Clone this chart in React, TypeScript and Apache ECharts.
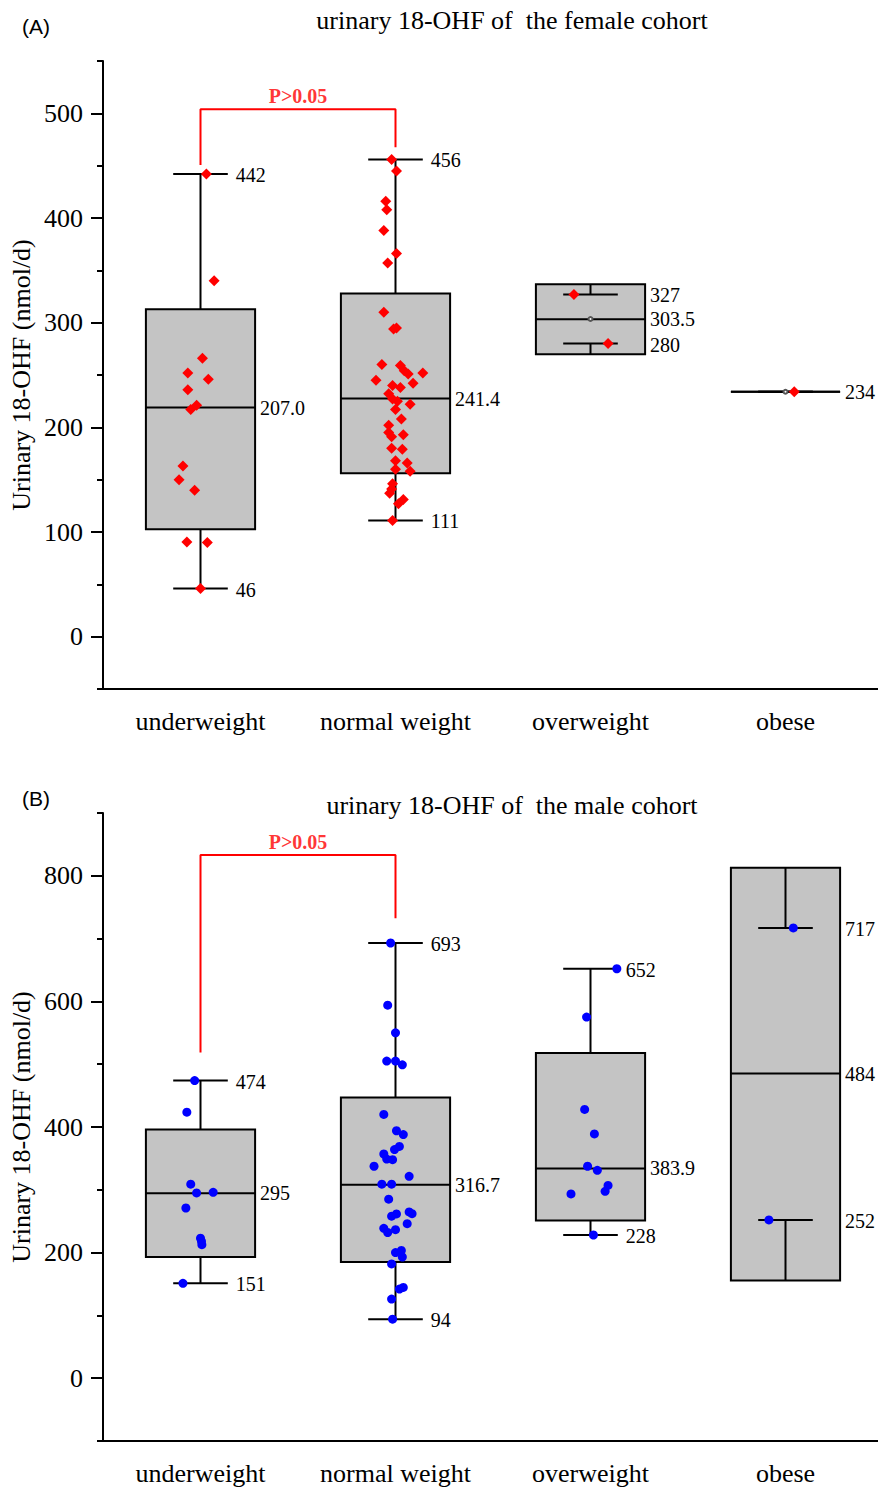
import React, { useEffect, useRef } from 'react';
import * as echarts from 'echarts';

const categories = ['underweight', 'normal weight', 'overweight', 'obese'];

// ---- Female cohort: box statistics ----
const femaleMin = [46, 111, 280, 234];
const femaleQ1 = [102.7, 156.2, 269.8, 234];
const femaleMedian = [218.9, 227.5, 303.3, 234];
const femaleQ3 = [312.8, 327.8, 336.7, 234];
const femaleMax = [442, 456, 327, 234];
const femaleMaxLabels = ['442', '456', '327', ''];
const femaleMinLabels = ['46', '111', '280', ''];
const femaleMedianLabels = ['207.0', '241.4', '303.5', '234'];
const femaleMeanCategory = [2, 3];
const femaleMeanValues = [303.5, 234];

// ---- Female cohort: individual points (value, jitter in category units) ----
const femaleUnderweightValues = [442, 340, 266, 252, 246, 236, 221, 217, 163, 150, 140, 90.5, 90, 46];
const femaleUnderweightJitter = [0.03, 0.07, 0.01, -0.065, 0.04, -0.065, -0.02, -0.05, -0.09, -0.11, -0.03, -0.07, 0.035, 0];
const femaleNormalValues = [456, 445, 416, 408, 388, 366, 357, 310, 294, 295, 260, 259, 254, 251, 252, 245, 242, 240, 238, 232, 227, 225, 222, 217, 208, 202, 195, 191, 193, 180, 179, 168, 166, 160, 158, 146, 141, 137, 131, 127, 111];
const femaleNormalJitter = [-0.02, 0.005, -0.05, -0.045, -0.06, 0.005, -0.04, -0.06, -0.01, 0.005, -0.07, 0.025, 0.045, 0.065, 0.14, -0.1, 0.09, -0.015, 0.025, -0.035, -0.015, 0.01, 0.075, 0, 0.03, -0.035, -0.035, -0.02, 0.04, -0.02, 0.035, 0, 0.06, 0, 0.075, -0.015, -0.02, -0.03, 0.04, 0.015, -0.015];
const femaleOverValues = [327, 280];
const femaleOverJitter = [-0.085, 0.09];
const femaleObeseValues = [234];
const femaleObeseJitter = [0.045];

// ---- Male cohort: box statistics ----
const maleMin = [151, 94, 228, 252];
const maleQ1 = [193, 185, 251, 155.7];
const maleMedian = [294.4, 308, 334, 485];
const maleQ3 = [396, 447, 518, 813];
const maleMax = [474, 693, 652, 717];
const maleMaxLabels = ['474', '693', '652', '717'];
const maleMinLabels = ['151', '94', '228', '252'];
const maleMedianLabels = ['295', '316.7', '383.9', '484'];

// ---- Male cohort: individual points ----
const maleUnderweightValues = [474, 423.6, 309, 295, 296, 271, 223, 218, 212.6, 151];
const maleUnderweightJitter = [-0.03, -0.07, -0.05, -0.02, 0.065, -0.075, 0, 0.005, 0.007, -0.09];
const maleNormalValues = [693, 594, 550, 505, 505, 499, 420, 394, 388, 369, 364, 357, 349, 348, 337.5, 321.5, 309, 309, 285, 258, 261.5, 264.7, 262, 246, 238.6, 232, 236.5, 200, 203.5, 193, 182, 144.5, 142, 126, 94];
const maleNormalJitter = [-0.025, -0.04, 0, -0.045, 0, 0.035, -0.06, 0.005, 0.04, 0.02, -0.005, -0.06, -0.045, -0.015, -0.11, 0.07, -0.07, -0.02, -0.035, -0.02, 0.005, 0.07, 0.085, 0.06, -0.06, -0.04, 0, 0, 0.03, 0.035, -0.02, 0.04, 0.02, -0.02, -0.015];
const maleOverValues = [652, 575, 428, 389, 337.5, 331, 307, 297.6, 293.4, 228];
const maleOverJitter = [0.135, -0.02, -0.03, 0.02, -0.015, 0.035, 0.09, 0.075, -0.1, 0.015];
const maleObeseValues = [717, 252];
const maleObeseJitter = [0.04, -0.085];

// ---- significance brackets ----
const bracketX = [0, 0, 1, 1];
const femaleBracketY = [450.6, 503.8, 503.8, 467.5];
const maleBracketY = [518.8, 833, 833, 732.6];
const pLabel = 'P>0.05';

// ---- axis ticks ----
const femaleYMin = -50;
const femaleYMax = 550;
const femaleMinorStep = 50;
const femaleMajorMin = 0;
const femaleMajorMax = 500;
const femaleMajorStep = 100;
const maleYMin = -100;
const maleYMax = 900;
const maleMinorStep = 100;
const maleMajorMin = 0;
const maleMajorMax = 800;
const maleMajorStep = 200;

const SERIF = '"Liberation Serif", "Times New Roman", serif';
const SANS = '"Liberation Sans", Arial, sans-serif';
const BOX_FILL = '#c4c4c4';
const BOX_FRAC = 0.56;
const CAP_FRAC = 0.28;
const VALUE_FONT = 20;
const AXIS_FONT = 26;

function makeRenderBox(maxLabels: string[], minLabels: string[], medLabels: string[]) {
  return (_params: any, api: any) => {
    const i = api.value(0);
    const vMin = api.value(1);
    const q1 = api.value(2);
    const med = api.value(3);
    const q3 = api.value(4);
    const vMax = api.value(5);
    const band = api.size([1, 0])[0];
    const bw = band * BOX_FRAC;
    const cw = band * CAP_FRAC;
    const cx = api.coord([i, med])[0];
    const py = (v: number) => api.coord([i, v])[1];
    const yMin = py(vMin);
    const yQ1 = py(q1);
    const yMed = py(med);
    const yQ3 = py(q3);
    const yMax = py(vMax);
    const ls = { stroke: '#000', lineWidth: 2 };
    const children: any[] = [];
    children.push({
      type: 'rect',
      shape: { x: cx - bw / 2, y: yQ3, width: bw, height: yQ1 - yQ3 },
      style: { fill: BOX_FILL, stroke: '#000', lineWidth: 2 },
    });
    if (vMax !== q3) children.push({ type: 'line', shape: { x1: cx, y1: yQ3, x2: cx, y2: yMax }, style: ls });
    if (vMin !== q1) children.push({ type: 'line', shape: { x1: cx, y1: yQ1, x2: cx, y2: yMin }, style: ls });
    children.push({ type: 'line', shape: { x1: cx - cw / 2, y1: yMax, x2: cx + cw / 2, y2: yMax }, style: ls });
    children.push({ type: 'line', shape: { x1: cx - cw / 2, y1: yMin, x2: cx + cw / 2, y2: yMin }, style: ls });
    children.push({ type: 'line', shape: { x1: cx - bw / 2, y1: yMed, x2: cx + bw / 2, y2: yMed }, style: ls });
    const txt = (s: string, x: number, y: number) => ({
      type: 'text',
      x,
      y,
      style: {
        text: s,
        fill: '#000',
        font: `${VALUE_FONT}px ${SERIF}`,
        textAlign: 'left',
        textVerticalAlign: 'middle',
        align: 'left',
        verticalAlign: 'middle',
      },
    });
    const inside = (v: number) => v <= q3 && v >= q1;
    const maxL = maxLabels[i];
    if (maxL) children.push(txt(maxL, inside(vMax) ? cx + bw / 2 + 5 : cx + cw / 2 + 8, yMax + 1));
    const minL = minLabels[i];
    if (minL) children.push(txt(minL, inside(vMin) ? cx + bw / 2 + 5 : cx + cw / 2 + 8, yMin + 1));
    const medL = medLabels[i];
    if (medL) children.push(txt(medL, cx + bw / 2 + 5, yMed));
    return { type: 'group', children };
  };
}

function points(cat: number, values: number[], jitter: number[]) {
  return values.map((v, k) => [cat + jitter[k], v]);
}

function boxData(mn: number[], q1: number[], md: number[], q3: number[], mx: number[]) {
  return categories.map((_, i) => [i, mn[i], q1[i], md[i], q3[i], mx[i]]);
}

export default function App() {
  const ref = useRef<HTMLDivElement>(null);
  useEffect(() => {
    if (!ref.current) return;
    const chart = echarts.init(ref.current, undefined, { renderer: 'svg' });

    const LEFT = 103;
    const WIDTH = 780;
    const fTop = 61;
    const fH = 628;
    const mTop = 813;
    const mH = 628;
    const fScale = fH / (femaleYMax - femaleYMin);
    const mScale = mH / (maleYMax - maleYMin);

    const catAxis = (gridIndex: number) => ({
      type: 'category',
      gridIndex,
      data: categories,
      boundaryGap: true,
      axisLine: { onZero: false, lineStyle: { color: '#000', width: 2 } },
      axisTick: { alignWithLabel: true, length: 12, lineStyle: { color: '#000', width: 2 } },
      axisLabel: { color: '#000', fontSize: AXIS_FONT, fontFamily: SERIF, margin: 19, interval: 0 },
      splitLine: { show: false },
    });
    const hiddenValX = (gridIndex: number) => ({
      type: 'value',
      gridIndex,
      min: -0.5,
      max: 3.5,
      show: false,
      axisLine: { onZero: false },
      splitLine: { show: false },
    });
    const minorY = (gridIndex: number, min: number, max: number, step: number) => ({
      type: 'value',
      gridIndex,
      min,
      max,
      interval: step,
      axisLine: { show: true, onZero: false, lineStyle: { color: '#000', width: 2 } },
      axisTick: { show: true, length: 6, lineStyle: { color: '#000', width: 2 } },
      axisLabel: { show: false },
      splitLine: { show: false },
    });
    const majorY = (gridIndex: number, min: number, max: number, step: number) => ({
      type: 'value',
      gridIndex,
      min,
      max,
      interval: step,
      axisLine: { show: false, onZero: false },
      axisTick: { show: true, length: 12, lineStyle: { color: '#000', width: 2 } },
      axisLabel: { show: true, color: '#000', fontSize: AXIS_FONT, fontFamily: SERIF, margin: 20 },
      splitLine: { show: false },
    });

    const scatterSeries = (xIdx: number, yIdx: number, data: number[][], symbol: string, size: number, color: string) => ({
      type: 'scatter',
      xAxisIndex: xIdx,
      yAxisIndex: yIdx,
      data,
      symbol,
      symbolSize: size,
      itemStyle: { color, opacity: 1 },
      z: 4,
      silent: true,
    });

    const bracket = (xIdx: number, yIdx: number, ys: number[]) => [
      {
        type: 'line',
        xAxisIndex: xIdx,
        yAxisIndex: yIdx,
        data: bracketX.map((x, k) => [x, ys[k]]),
        symbol: 'none',
        lineStyle: { color: '#ff0000', width: 2 },
        z: 5,
        silent: true,
      },
      {
        type: 'scatter',
        xAxisIndex: xIdx,
        yAxisIndex: yIdx,
        data: [[(bracketX[1] + bracketX[2]) / 2, ys[1]]],
        symbolSize: 1,
        itemStyle: { color: 'rgba(0,0,0,0)' },
        label: {
          show: true,
          position: 'top',
          distance: 3,
          formatter: pLabel,
          color: '#ff0000',
          fontSize: 20,
          fontWeight: 'bold',
          fontFamily: SERIF,
        },
        z: 5,
        silent: true,
      },
    ];

    const option: any = {
      animation: false,
      backgroundColor: '#ffffff',
      grid: [
        { left: LEFT, top: fTop, width: WIDTH, height: fH },
        {
          left: LEFT,
          top: fTop + (femaleYMax - femaleMajorMax) * fScale,
          width: WIDTH,
          height: (femaleMajorMax - femaleMajorMin) * fScale,
        },
        { left: LEFT, top: mTop, width: WIDTH, height: mH },
        {
          left: LEFT,
          top: mTop + (maleYMax - maleMajorMax) * mScale,
          width: WIDTH,
          height: (maleMajorMax - maleMajorMin) * mScale,
        },
      ],
      xAxis: [
        catAxis(0),
        hiddenValX(0),
        catAxis(2),
        hiddenValX(2),
        hiddenValX(1),
        hiddenValX(3),
      ],
      yAxis: [
        minorY(0, femaleYMin, femaleYMax, femaleMinorStep),
        majorY(1, femaleMajorMin, femaleMajorMax, femaleMajorStep),
        minorY(2, maleYMin, maleYMax, maleMinorStep),
        majorY(3, maleMajorMin, maleMajorMax, maleMajorStep),
      ],
      graphic: [
        { type: 'text', x: 22, y: 26, style: { text: '(A)', font: `21px ${SANS}`, fill: '#000', textVerticalAlign: 'middle', verticalAlign: 'middle' } },
        { type: 'text', x: 22, y: 798, style: { text: '(B)', font: `21px ${SANS}`, fill: '#000', textVerticalAlign: 'middle', verticalAlign: 'middle' } },
        {
          type: 'text', x: 512, y: 20,
          style: { text: 'urinary 18-OHF of  the female cohort', font: `${AXIS_FONT}px ${SERIF}`, fill: '#000', textAlign: 'center', align: 'center', textVerticalAlign: 'middle', verticalAlign: 'middle' },
        },
        {
          type: 'text', x: 512, y: 805,
          style: { text: 'urinary 18-OHF of  the male cohort', font: `${AXIS_FONT}px ${SERIF}`, fill: '#000', textAlign: 'center', align: 'center', textVerticalAlign: 'middle', verticalAlign: 'middle' },
        },
        {
          type: 'text', x: 21, y: fTop + fH / 2, rotation: Math.PI / 2,
          style: { text: 'Urinary 18-OHF (nmol/d)', font: `${AXIS_FONT}px ${SERIF}`, fill: '#000', textAlign: 'center', align: 'center', textVerticalAlign: 'middle', verticalAlign: 'middle' },
        },
        {
          type: 'text', x: 21, y: mTop + mH / 2, rotation: Math.PI / 2,
          style: { text: 'Urinary 18-OHF (nmol/d)', font: `${AXIS_FONT}px ${SERIF}`, fill: '#000', textAlign: 'center', align: 'center', textVerticalAlign: 'middle', verticalAlign: 'middle' },
        },
      ],
      series: [
        {
          type: 'custom',
          xAxisIndex: 0,
          yAxisIndex: 0,
          renderItem: makeRenderBox(femaleMaxLabels, femaleMinLabels, femaleMedianLabels),
          data: boxData(femaleMin, femaleQ1, femaleMedian, femaleQ3, femaleMax),
          encode: { x: 0, y: [1, 2, 3, 4, 5] },
          z: 2,
          silent: true,
        },
        scatterSeries(1, 0, femaleMeanCategory.map((c, k) => [c, femaleMeanValues[k]]), 'emptyCircle', 4, '#555'),
        scatterSeries(1, 0, points(0, femaleUnderweightValues, femaleUnderweightJitter), 'diamond', 11, '#ff0000'),
        scatterSeries(1, 0, points(1, femaleNormalValues, femaleNormalJitter), 'diamond', 11, '#ff0000'),
        scatterSeries(1, 0, points(2, femaleOverValues, femaleOverJitter), 'diamond', 11, '#ff0000'),
        scatterSeries(1, 0, points(3, femaleObeseValues, femaleObeseJitter), 'diamond', 11, '#ff0000'),
        ...bracket(1, 0, femaleBracketY),
        {
          type: 'custom',
          xAxisIndex: 2,
          yAxisIndex: 2,
          renderItem: makeRenderBox(maleMaxLabels, maleMinLabels, maleMedianLabels),
          data: boxData(maleMin, maleQ1, maleMedian, maleQ3, maleMax),
          encode: { x: 0, y: [1, 2, 3, 4, 5] },
          z: 2,
          silent: true,
        },
        scatterSeries(3, 2, points(0, maleUnderweightValues, maleUnderweightJitter), 'circle', 9, '#0000ff'),
        scatterSeries(3, 2, points(1, maleNormalValues, maleNormalJitter), 'circle', 9, '#0000ff'),
        scatterSeries(3, 2, points(2, maleOverValues, maleOverJitter), 'circle', 9, '#0000ff'),
        scatterSeries(3, 2, points(3, maleObeseValues, maleObeseJitter), 'circle', 9, '#0000ff'),
        ...bracket(3, 2, maleBracketY),
      ],
    };
    chart.setOption(option);
    return () => chart.dispose();
  }, []);
  return (
    <div style={{ position: 'absolute', left: 0, top: 0, width: 878, height: 1489, overflow: 'hidden', background: '#fff' }}>
      <div ref={ref} style={{ width: 900, height: 1489 }} />
    </div>
  );
}
